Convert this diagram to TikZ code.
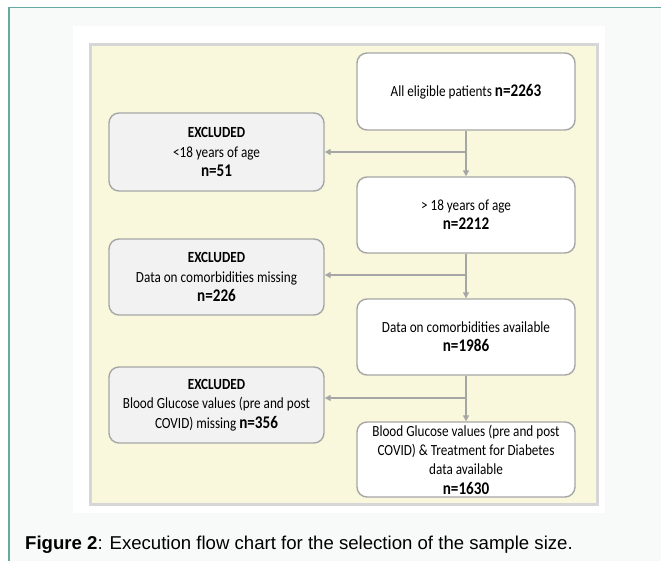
\documentclass[tikz,border=0pt]{standalone}
\usepackage{fontspec}
\setmainfont{Carlito}[FakeStretch=0.85]
\newfontfamily\capfont{Liberation Sans}
\usetikzlibrary{arrows.meta}
\definecolor{frameteal}{HTML}{64AAA3}
\definecolor{pagebg}{HTML}{F8FAF9}
\definecolor{panelfill}{HTML}{FAF8DC}
\definecolor{panelborder}{HTML}{D6D6D6}
\definecolor{boxborder}{HTML}{A6A6A6}
\definecolor{exfill}{HTML}{F2F2F2}
\definecolor{linegray}{HTML}{A6A6A6}
\newcommand{\bnum}[1]{{\fontsize{17.8}{19.3}\selectfont\bfseries #1}}
\tikzset{
  flowbox/.style={draw=boxborder, line width=1.4pt, rounded corners=10pt, fill=white,
    minimum width=218pt, align=center, inner sep=0pt,
    font=\fontsize{15.5}{19.3}\selectfont},
  exbox/.style={flowbox, fill=exfill, minimum width=215pt},
  flowarrow/.style={draw=linegray, line width=1.4pt, -{Triangle[length=6pt,width=6pt]}},
}
\begin{document}
\begin{tikzpicture}[x=1pt,y=-1pt]
\useasboundingbox (0,0) rectangle (661,561);
\clip (0,0) rectangle (661,561);
\fill[white] (0,0) rectangle (661,561);
\draw[frameteal, line width=1.6pt, fill=pagebg] (8.7,7.5) rectangle (680,580);
\fill[white] (73,26) rectangle (605,513);
\draw[panelborder, line width=2.6pt, fill=panelfill] (90.3,44.3) rectangle (597.7,504.7);

\node[flowbox, minimum height=77pt] (b1) at (466,91.5) {All eligible patients \bnum{n=2263}};
\node[flowbox, minimum height=76pt] (b2) at (466,215) {> 18 years of age\\\bnum{n=2212}};
\node[flowbox, minimum height=76pt] (b3) at (466,337) {Data on comorbidities available\\\bnum{n=1986}};
\node[flowbox, minimum height=75pt] (b4) at (466,459.5) {Blood Glucose values (pre and post\\COVID) \& Treatment for Diabetes\\data available\\\bnum{n=1630}};

\node[exbox, minimum height=78pt] (e1) at (216.5,152) {\textbf{EXCLUDED}\\<18 years of age\\\bnum{n=51}};
\node[exbox, minimum height=76pt] (e2) at (216.5,277) {\textbf{EXCLUDED}\\Data on comorbidities missing\\\bnum{n=226}};
\node[exbox, minimum height=76pt] (e3) at (216.5,405) {\textbf{EXCLUDED}\\Blood Glucose values (pre and post\\COVID) missing \bnum{n=356}};

\coordinate (j1) at (466,152);
\coordinate (j2) at (466,275);
\coordinate (j3) at (466,398);

\draw[flowarrow] (b1) -- (b2);
\draw[flowarrow] (b2) -- (b3);
\draw[flowarrow] (b3) -- (b4);
\draw[flowarrow] (j1) -- (j1 -| e1.east);
\draw[flowarrow] (j2) -- (j2 -| e2.east);
\draw[flowarrow] (j3) -- (j3 -| e3.east);

\node[anchor=base west, inner sep=0pt, font=\capfont\fontsize{18.6}{21}\selectfont] (cap) at (25,549)
  {\textbf{Figure 2}: Execution flow chart for the selection of the sample size.};
\end{tikzpicture}
\end{document}
